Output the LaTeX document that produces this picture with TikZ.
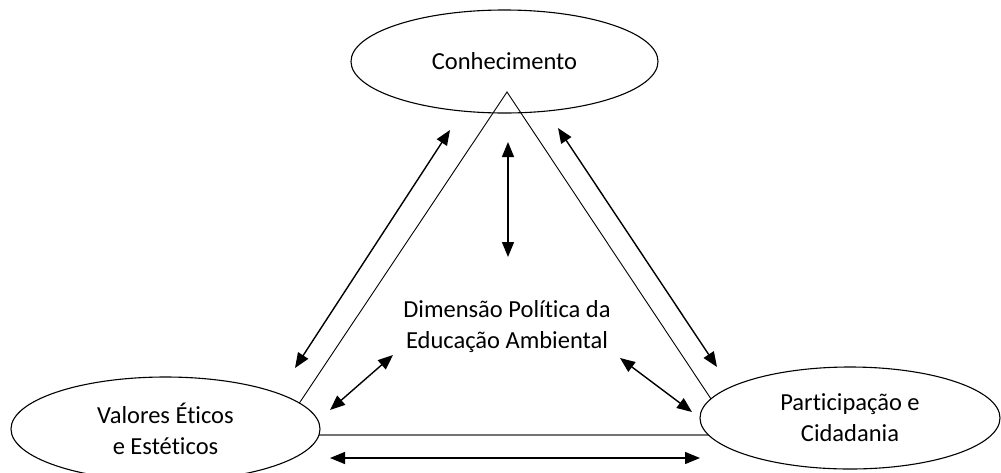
\documentclass[tikz,border=0pt]{standalone}
\usepackage{fontspec}
\setmainfont{Carlito}[Ligatures={NoCommon}]
\usetikzlibrary{shapes.geometric,arrows.meta}

\begin{document}
\begin{tikzpicture}[x=1pt,y=-1pt,
  polo/.style={draw,ellipse,line width=1.1pt,fill=white,inner sep=0pt,align=center,font=\fontsize{24.5}{31}\selectfont},
  rotulo/.style={align=center,font=\fontsize{24.5}{31}\selectfont},
  seta/.style={line width=1.4pt},
  >={Triangle[length=15pt,width=12pt]}]
\useasboundingbox (0,0) rectangle (1001,472);

\node[polo,minimum width=307pt,minimum height=103pt] (conh) at (504.5,61.5) {Conhecimento};

% triangulo
\coordinate (topo) at (507,92);
\coordinate (esq) at (278,435);
\coordinate (dir) at (735,435);
\draw[line width=0.9pt] (esq)--(topo)--(dir);
\draw[line width=2pt,black!55] (esq)--(dir);

\node[polo,minimum width=309pt,minimum height=104pt] (valores) at (165.5,429) {Valores Éticos\\e Estéticos};
\node[polo,minimum width=300pt,minimum height=102pt] (partic) at (850,418) {Participação e\\Cidadania};
\node[rotulo] (dim) at (507,327) {Dimensão Política da\\Educação Ambiental};

% setas
\coordinate (s1a) at (450,130); \coordinate (s1b) at (295,368);
\coordinate (s2a) at (558,128); \coordinate (s2b) at (717,367);
\coordinate (s3a) at (508,142); \coordinate (s3b) at (508,257);
\coordinate (s4a) at (393,355); \coordinate (s4b) at (330,410);
\coordinate (s5a) at (620,358); \coordinate (s5b) at (692,412);
\coordinate (s6a) at (330,458); \coordinate (s6b) at (700,458);

\draw[seta,<->] (s1a)--(s1b);
\draw[seta,<->] (s2a)--(s2b);
\draw[seta,<->] (s3a)--(s3b);
\draw[seta,<->] (s4a)--(s4b);
\draw[seta,<->] (s5a)--(s5b);
\draw[seta,<->] (s6a)--(s6b);

\end{tikzpicture}
\end{document}
